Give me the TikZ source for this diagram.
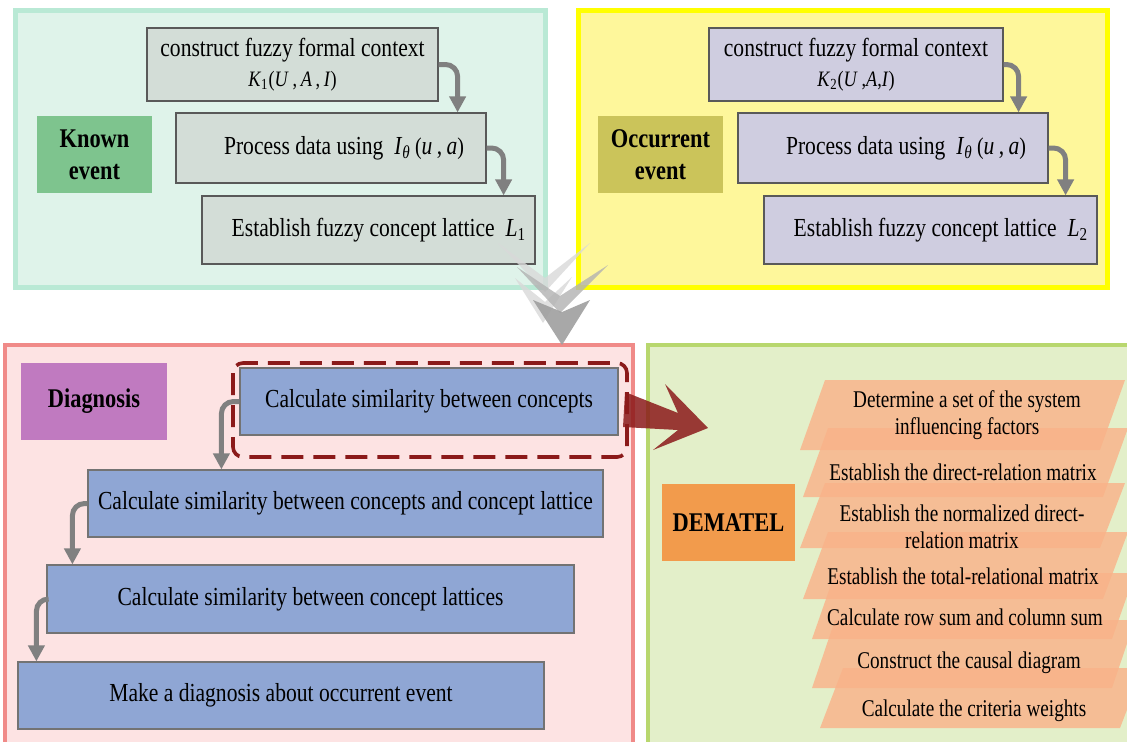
\documentclass[tikz,border=0pt]{standalone}
\usepackage{fontspec}
\setmainfont[FakeStretch=0.83]{Liberation Serif}
\newfontfamily\stepserif[FakeStretch=0.80]{Liberation Serif}
\usetikzlibrary{arrows.meta,calc}

\definecolor{mintfill}{HTML}{DFF3EA}
\definecolor{mintedge}{HTML}{B9E9D5}
\definecolor{sagebox}{HTML}{D3DDD7}
\definecolor{knowngreen}{HTML}{7EC48E}
\definecolor{lemonfill}{HTML}{FEF79B}
\definecolor{lemonedge}{HTML}{FFFF00}
\definecolor{lilacbox}{HTML}{CFCDE0}
\definecolor{olivetag}{HTML}{CBC45A}
\definecolor{rosefill}{HTML}{FDE3E3}
\definecolor{roseedge}{HTML}{F08A88}
\definecolor{orchidtag}{HTML}{C07AC0}
\definecolor{bluebox}{HTML}{8FA6D4}
\definecolor{darkmaroon}{HTML}{8B1A1A}
\definecolor{limefill}{HTML}{E3EFC9}
\definecolor{limeedge}{HTML}{B8D76E}
\definecolor{orangetag}{HTML}{F29B4C}
\definecolor{salmonstep}{HTML}{F9B38A}
\definecolor{arrowgray}{HTML}{808080}

\tikzset{
  panel/.style={draw, line width=2.5pt, inner sep=0pt},
  stepbox/.style={draw=black!65, line width=0.6pt, inner sep=0pt, align=center,
    font=\fontsize{13pt}{15pt}\selectfont},
  tag/.style={inner sep=0pt, align=center, font=\bfseries\fontsize{13.5pt}{16pt}\selectfont},
  flow/.style={draw=arrowgray, line width=2.5pt, rounded corners=6pt,
    -{Triangle[length=8pt,width=8pt]}},
  item/.style={inner sep=0pt, align=center, font=\stepserif\fontsize{12pt}{13.5pt}\selectfont},
  slab/.style={fill=salmonstep, opacity=0.82},
}

\newcommand{\Itheta}{\textit{I}\textsubscript{\textit{θ}}\,{\large(}\textit{u}\,,\,\textit{a}{\large)}}

\begin{document}
\begin{tikzpicture}[x=0.5pt,y=-0.5pt]
\useasboundingbox (0,0) rectangle (1127,741);
\clip (0,0) rectangle (1127,741);
\fill[white] (0,0) rectangle (1127,741);

% ---------- known event ----------
\node[panel, draw=mintedge, fill=mintfill, minimum width=265pt, minimum height=138.5pt]
  (knownpanel) at (280,148.5) {};
\node[stepbox, fill=sagebox, minimum width=145.5pt, minimum height=36.5pt] (k1) at (292.5,64.5)
  {construct fuzzy formal context\\[0pt]
   {\fontsize{11pt}{12pt}\selectfont\textit{K}\textsubscript{1}(\textit{U}\,,\,\textit{A}\,,\,\textit{I})\hspace{1.5em}}};
\node[stepbox, fill=sagebox, minimum width=155pt, minimum height=35pt] (k2) at (331,148)
  {\hspace{1em}Process data using\ \ \Itheta};
\node[stepbox, fill=sagebox, minimum width=166.5pt, minimum height=34pt] (k3) at (368.5,230)
  {\hspace{0.8em}Establish fuzzy concept lattice\ \ \textit{L}\textsubscript{1}};
\node[tag, fill=knowngreen, minimum width=57.5pt, minimum height=38.5pt] (known) at (94.5,154.5)
  {Known\\event};
\draw[flow] (k1.east) -| ($(k2.north east)+(-29,0)$);
\draw[flow] (k2.east) -| ($(k3.north east)+(-32,0)$);

% ---------- occurrent event ----------
\node[panel, draw=lemonedge, fill=lemonfill, minimum width=264.5pt, minimum height=138.5pt]
  (occpanel) at (842.5,148.5) {};
\node[stepbox, fill=lilacbox, minimum width=147pt, minimum height=36.5pt] (o1) at (856,64.5)
  {construct fuzzy formal context\\[0pt]
   {\fontsize{11pt}{12pt}\selectfont\textit{K}\textsubscript{2}(\textit{U}\,,\textit{A},\textit{I})\hspace{1.5em}}};
\node[stepbox, fill=lilacbox, minimum width=155pt, minimum height=35pt] (o2) at (893,148)
  {\hspace{1em}Process data using\ \ \Itheta};
\node[stepbox, fill=lilacbox, minimum width=166.5pt, minimum height=34pt] (o3) at (930.5,230)
  {\hspace{0.8em}Establish fuzzy concept lattice\ \ \textit{L}\textsubscript{2}};
\node[tag, fill=olivetag, minimum width=62.5pt, minimum height=38.5pt] (occ) at (660.5,154.5)
  {Occurrent\\event};
\draw[flow] (o1.east) -| ($(o2.north east)+(-30,0)$);
\draw[flow] (o2.east) -| ($(o3.north east)+(-32,0)$);

% ---------- diagnosis ----------
\node[panel, draw=roseedge, line width=2pt, fill=rosefill, minimum width=314pt, minimum height=202.5pt]
  (diagpanel) at (319,547.5) {};
\node[tag, fill=orchidtag, minimum width=73pt, minimum height=38.5pt] (diag) at (94,401.5) {Diagnosis};
\node[stepbox, draw=black!55, fill=bluebox, minimum width=189pt, minimum height=33.5pt] (d1) at (429,401.5)
  {Calculate similarity between concepts};
\node[stepbox, draw=black!55, fill=bluebox, minimum width=257.5pt, minimum height=33.5pt] (d2) at (345.5,503.5)
  {Calculate similarity between concepts and concept lattice};
\node[stepbox, draw=black!55, fill=bluebox, minimum width=263.5pt, minimum height=34pt] (d3) at (310.5,599)
  {Calculate similarity between concept lattices};
\node[stepbox, draw=black!55, fill=bluebox, minimum width=263pt, minimum height=33.5pt] (d4) at (281,695.5)
  {Make a diagnosis about occurrent event};
\draw[darkmaroon, line width=1.8pt, dash pattern=on 11pt off 5pt, rounded corners=5pt]
  (233,363) rectangle (627,457);
\draw[flow] (d1.west) -| ($(d2.north west)+(134,0)$);
\draw[flow] (d2.west) -| ($(d3.north west)+(26,0)$);
\draw[flow] (d3.west) -| ($(d4.north west)+(19,0)$);

% ---------- DEMATEL ----------
\node[panel, draw=limeedge, line width=2pt, fill=limefill, minimum width=243.5pt, minimum height=202.5pt]
  (dempanel) at (891.5,547.5) {};
\node[tag, fill=orangetag, minimum width=66.5pt, minimum height=38.5pt] (dematel) at (728.5,522.5) {DEMATEL};

% stacked slanted step slabs
\fill[slab] (800,450) -- (825,380) -- (1125,380) -- (1100,450) -- cycle;
\fill[slab] (803,497) -- (828,428) -- (1128,428) -- (1103,497) -- cycle;
\fill[slab] (800,548) -- (825,483) -- (1125,483) -- (1100,548) -- cycle;
\fill[slab] (803,599) -- (828,532) -- (1128,532) -- (1103,599) -- cycle;
\fill[slab] (812,639) -- (835,573) -- (1135,573) -- (1112,639) -- cycle;
\fill[slab] (812,688) -- (835,620) -- (1135,620) -- (1112,688) -- cycle;
\fill[slab] (820,728) -- (843,668) -- (1143,668) -- (1120,728) -- cycle;

\node[item] (s1) at (967,415) {Determine a set of the system\\influencing factors};
\node[item] (s2) at (963,472) {Establish the direct-relation matrix};
\node[item] (s3) at (962,527) {Establish the normalized direct-\\relation matrix};
\node[item] (s4) at (963,576) {Establish the total-relational matrix};
\node[item] (s5) at (965,617) {Calculate row sum and column sum};
\node[item] (s6) at (969,663) {Construct the causal diagram};
\node[item] (s7) at (974,711) {Calculate the criteria weights};

% ---------- linking arrows ----------
% layered chevrons leading from the event panels down to the diagnosis
\fill[gray!30, opacity=0.8] (498,243) -- (545,278) -- (590,243) -- (545,292) -- cycle;
\fill[gray!30, opacity=0.8] (515,278) -- (545,302) -- (572,277) -- (543,323) -- cycle;
\fill[gray!60, opacity=0.8] (517,267) -- (560,296) -- (608,265) -- (560,313) -- cycle;
\fill[gray!75, opacity=0.9] (533,300) -- (562,312) -- (590,300) -- (562,345) -- cycle;

% notched arrow from the highlighted step to DEMATEL
\fill[darkmaroon, opacity=0.85] (625,392) -- (678,413) -- (665,384) -- (708,428)
  -- (653,450) -- (678,430) -- (623,427) -- cycle;
\end{tikzpicture}
\end{document}
